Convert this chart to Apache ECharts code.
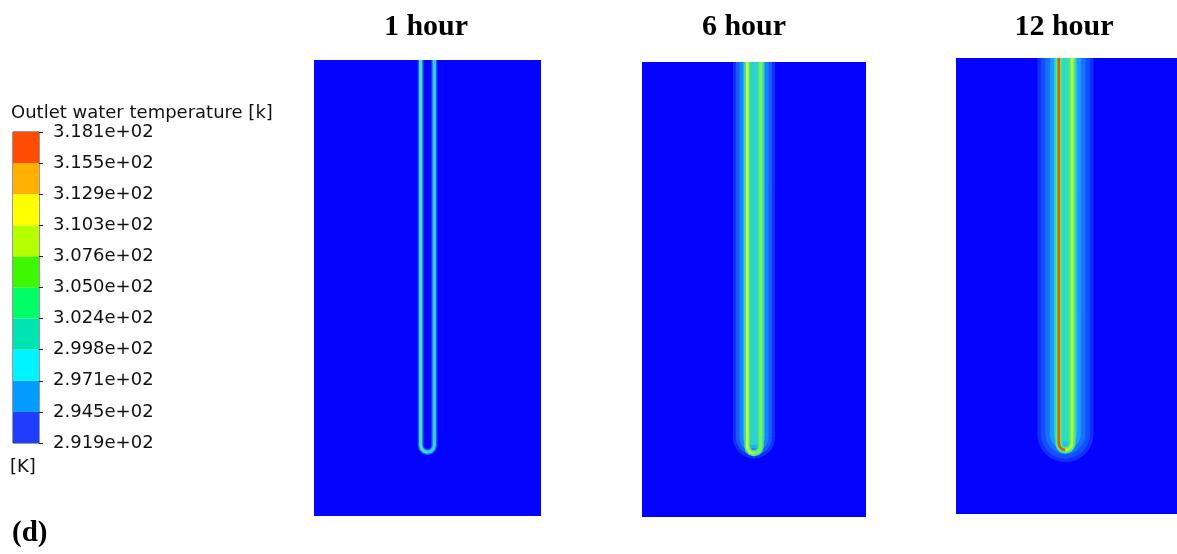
<!DOCTYPE html>
<html><head><meta charset="utf-8">
<script src="https://cdn.jsdelivr.net/npm/echarts@6/dist/echarts.min.js"></script>
<style>html,body{margin:0;padding:0;background:#fff}#c{width:1177px;height:554px}</style>
</head><body><div id="c"></div>
<script>
// ---- data ----
const panelTitles = ['1 hour', '6 hour', '12 hour'];
const legendTitle = 'Outlet water temperature [k]';
const legendUnit = '[K]';
const figureLabel = '(d)';
const legendLabels = ['2.919e+02','2.945e+02','2.971e+02','2.998e+02','3.024e+02','3.050e+02','3.076e+02','3.103e+02','3.129e+02','3.155e+02','3.181e+02'];
const bandColors = ['#1f3cff','#009cff','#00f4ff','#00e4b4','#00ff66','#3cf800','#b4ff00','#ffff00','#ffb000','#ff4c00'];
const bandSize = [1,1,1,1,1,1,1,1,1,1];
// U-tube centreline (x: lateral, y: depth) in panel units
const tubeX = [-6, -6, -5.2, -3, 0, 3, 5.2, 6, 6];
const tubeY = [0, 338, 341, 343.2, 344, 343.2, 341, 338, 0];
// heated zone axis (between the legs): down and back up
const haloX = [-0.01, 0, 0.01];
const haloY = [0, 330, 0];

// ---- build ----
const tube = tubeX.map((x, i) => [x, tubeY[i]]);
const tubeLeft = tube.slice(0, 5);
const tubeRight = tube.slice(4);
const halo = haloX.map((x, i) => [x, haloY[i]]);

const panelGrids = [
  {left: 314, top: 60, width: 227, height: 456},
  {left: 642, top: 62, width: 224, height: 455},
  {left: 956, top: 58, width: 221, height: 456}
];
const panelXRange = [[-100, 100], [-100, 100], [-99, 101]];
const titleCenters = [426, 744, 1064];

// styles per panel
const haloStyles = [
  [],
  [{w: 42, c: 'rgba(30,100,255,0.45)'}, {w: 36, c: 'rgba(24,100,255,0.85)'}, {w: 29, c: '#1a82ff'}, {w: 22, c: '#20aef6'}, {w: 15, c: '#2cd2cc'}],
  [{w: 56, c: 'rgba(30,100,255,0.45)'}, {w: 49, c: 'rgba(20,85,255,0.85)'}, {w: 40, c: '#1672ff'}, {w: 31, c: '#1c9cff'}, {w: 23, c: '#22c4ec'}, {w: 15, c: '#30dcc0'}]
];
const tubeStyles = [
  {base: {w: 6, c: 'rgba(30,120,255,0.7)'}, mid: {w: 3.5, c: '#34c4e0'}, left: {w: 2, c: '#58e096'}, right: {w: 2, c: '#40c8ee'}},
  {base: {w: 6, c: '#3ee2a0'}, mid: {w: 4, c: '#58ee78'}, left: {w: 2.5, c: '#ccff3c'}, right: {w: 2.5, c: '#78f458'}},
  {base: {w: 7, c: '#40e2a8'}, mid: {w: 5, c: '#5cf060'}, left: {w: 2.5, c: '#dc5a14'}, right: {w: 2.5, c: '#b8ff30'}}
];

const grid = [{left: 13, top: 132, width: 26, height: 311, show: true, borderColor: '#333', borderWidth: 1, backgroundColor: 'transparent'}];
const xAxis = [{gridIndex: 0, type: 'category', data: ['K'], show: false}];
const yAxis = [{
  gridIndex: 0, type: 'value', min: 0, max: 10, interval: 1, position: 'right',
  axisLine: {show: false}, splitLine: {show: false},
  axisTick: {show: true, length: 4, lineStyle: {color: '#222', width: 1}},
  axisLabel: {margin: 14, color: '#111', fontSize: 18, fontFamily: 'DejaVu Sans', formatter: v => legendLabels[v] || ''}
}];
const series = [];
bandSize.forEach((v, i) => {
  series.push({type: 'bar', xAxisIndex: 0, yAxisIndex: 0, stack: 'cb', barWidth: '100%', silent: true,
    data: [v], itemStyle: {color: bandColors[i]}});
});

function lineSeries(idx, data, w, c) {
  return {type: 'line', xAxisIndex: idx, yAxisIndex: idx, data: data, symbol: 'none', silent: true, clip: true,
    lineStyle: {width: w, color: c, cap: 'butt', join: 'round'}};
}

panelGrids.forEach((g, p) => {
  const idx = p + 1;
  grid.push(Object.assign({show: true, backgroundColor: '#0404fe', borderWidth: 0}, g));
  xAxis.push({gridIndex: idx, type: 'value', min: panelXRange[p][0], max: panelXRange[p][1], show: false});
  yAxis.push({gridIndex: idx, type: 'value', min: 0, max: 400, inverse: true, show: false});
  haloStyles[p].forEach(s => series.push(lineSeries(idx, halo, s.w, s.c)));
  const t = tubeStyles[p];
  series.push(lineSeries(idx, tube, t.base.w, t.base.c));
  series.push(lineSeries(idx, tube, t.mid.w, t.mid.c));
  series.push(lineSeries(idx, tubeLeft, t.left.w, t.left.c));
  series.push(lineSeries(idx, tubeRight, t.right.w, t.right.c));
});

const graphic = [];
panelTitles.forEach((t, i) => graphic.push({type: 'text', x: titleCenters[i], y: 27,
  style: {text: t, align: 'center', verticalAlign: 'middle', font: 'bold 30px "Liberation Serif"', fill: '#000'}}));
graphic.push({type: 'text', x: 11, y: 113, style: {text: legendTitle, align: 'left', verticalAlign: 'middle', font: '18px "DejaVu Sans"', fill: '#111'}});
graphic.push({type: 'text', x: 10, y: 467, style: {text: legendUnit, align: 'left', verticalAlign: 'middle', font: '18px "DejaVu Sans"', fill: '#111'}});
graphic.push({type: 'text', x: 12, y: 534, style: {text: figureLabel, align: 'left', verticalAlign: 'middle', font: 'bold 29px "Liberation Serif"', fill: '#000'}});

const chart = echarts.init(document.getElementById('c'));
chart.setOption({animation: false, backgroundColor: '#fff', grid, xAxis, yAxis, series, graphic});
</script>
</body></html>
